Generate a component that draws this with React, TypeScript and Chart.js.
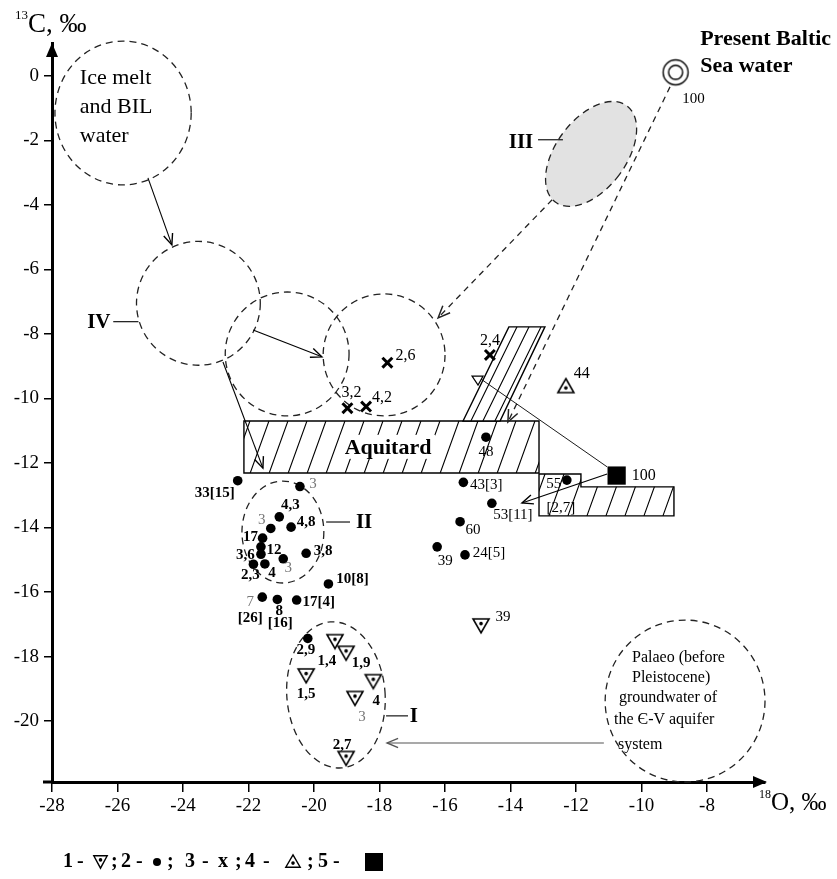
import { useEffect, useRef } from "react";
import { Chart, registerables } from "chart.js";
Chart.register(...registerables);

const FONT = '"Liberation Serif", "Times New Roman", serif';

// ---- axis ticks ----
const xTickValues = [-28, -26, -24, -22, -20, -18, -16, -14, -12, -10, -8];
const yTickValues = [-20, -18, -16, -14, -12, -10, -8, -6, -4, -2, 0];

// ---- series 1: inverted triangles ----
const s1X = [-19.36, -19.02, -20.24, -18.19, -18.75, -19.02, -14.9];
const s1Y = [-17.54, -17.9, -18.6, -18.78, -19.3, -21.16, -17.05];
const s1Labels = ["1,4", "1,9", "1,5", "4", "3", "2,7", "39"];

// ---- series 2: dots ----
const s2X = [-22.33, -20.43, -21.06, -21.32, -20.7, -21.57, -21.62, -21.62, -20.94, -21.5, -21.85, -20.24, -19.56, -20.53, -21.12, -21.58, -20.19, -14.75, -15.44, -14.57, -15.54, -16.24, -15.39, -12.28];
const s2Y = [-12.55, -12.73, -13.67, -14.03, -13.99, -14.33, -14.6, -14.83, -14.97, -15.13, -15.14, -14.8, -15.75, -16.25, -16.23, -16.16, -17.44, -11.2, -12.6, -13.25, -13.82, -14.6, -14.85, -12.53];
const s2Labels = ["33[15]", "3", "4,3", "3", "4,8", "17", "12", "3,6", "3", "4", "2,3", "3,8", "10[8]", "17[4]", "8\n[16]", "7\n[26]", "2,9", "48", "43[3]", "53[11]", "60", "39", "24[5]", "55\n[2,7]"];

// ---- series 3: crosses ----
const s3X = [-17.76, -18.98, -18.41, -14.63];
const s3Y = [-8.89, -10.3, -10.25, -8.65];
const s3Labels = ["2,6", "3,2", "4,2", "2,4"];

// ---- series 4: triangle up ----
const s4X = [-12.31];
const s4Y = [-9.6];
const s4Labels = ["44"];

// ---- series 5: square ----
const s5X = [-10.76];
const s5Y = [-12.39];
const s5Labels = ["100"];

// ---- present Baltic Sea water ----
const balticX = [-8.96];
const balticY = [0.11];
const balticLabels = ["100"];

// ---- label placement (pixel offsets) and styles ----
const s1LabelOffsets = [[[-8, 19]], [[15, 10]], [[0, 18]], [[3, 19]], [[7, 19]], [[-4, -13]], [[22, -9]]];
const s1LabelStyles = ["b", "b", "b", "b", "g", "b", "n"];
const s2LabelOffsets = [[[-23, 12]], [[13, -2]], [[11, -12]], [[-9, -8]], [[15, -5]], [[-12, -1]], [[13, 3]], [[-15.5, 1]], [[5, 9]], [[7, 9]], [[-3, 11]], [[17, -2]], [[24, -5]], [[22, 2]], [[2, 12], [3, 24]], [[-12, 5], [-12, 21]], [[-2, 12]], [[0, 15]], [[23, 3]], [[21, 12]], [[13, 8]], [[8, 14]], [[24, -2]], [[-13, 4], [-6, 28]]];
const s2LabelStyles = ["b", "g", "b", "g", "b", "b", "b", "b", "g", "b", "b", "b", "b", "b", "bb", "gb", "b", "n", "n", "n", "n", "n", "n", "nn"];
const s3LabelOffsets = [[[18, -7]], [[4, -15]], [[16, -9]], [[0, -14]]];
const s3LabelStyles = ["n", "n", "n", "n"];
const s4LabelOffsets = [[[16, -12]]];
const s5LabelOffsets = [[[27, 0]]];
const balticLabelOffsets = [[[18, 27]]];

// ---- diagram zones (data units) ----
const dashedZones = [
  { cx: -25.83, cy: -1.15, rx: 2.08, ry: 2.23, rot: 0 },
  { cx: -23.53, cy: -7.05, rx: 1.89, ry: 1.92, rot: 0 },
  { cx: -20.82, cy: -8.62, rx: 1.89, ry: 1.92, rot: 0 },
  { cx: -17.86, cy: -8.65, rx: 1.86, ry: 1.89, rot: 0 },
  { cx: -20.95, cy: -14.14, rx: 1.25, ry: 1.58, rot: 0 },
  { cx: -19.33, cy: -19.19, rx: 1.5, ry: 2.27, rot: -0.08 },
  { cx: -8.67, cy: -19.38, rx: 2.44, ry: 2.51, rot: 0 },
];
const zoneIII = { cx: -11.54, cy: -2.42, rx: 1.07, ry: 1.86, rot: 0.64 };

const aquitardPoly = [[-22.14, -10.7], [-13.13, -10.7], [-13.13, -12.31], [-22.14, -12.31]];
const bandPoly = [[-15.45, -10.7], [-14.05, -7.78], [-12.95, -7.78], [-14.32, -10.7]];
const stepPoly = [[-13.13, -12.34], [-11.85, -12.34], [-11.85, -12.74], [-9.01, -12.74], [-9.01, -13.64], [-13.13, -13.64]];

const solidArrows = [
  { from: [-25.07, -3.16], to: [-24.34, -5.24], color: "#000" },
  { from: [-21.86, -7.88], to: [-19.76, -8.71], color: "#000" },
  { from: [-22.78, -8.87], to: [-21.56, -12.16], color: "#000" },
  { from: [-11.15, -20.68], to: [-17.77, -20.68], color: "#555" },
  { from: [-11.05, -12.34], to: [-13.65, -13.24], color: "#000" },
];
const dashedArrows = [
  { from: [-12.73, -3.84], to: [-16.21, -7.5] },
  { from: [-9.13, -0.34], to: [-14.08, -10.73] },
];
const squareToTriangle = { from: [-11.05, -12.12], to: [-14.9, -9.4] };
const leaderLines = [
  { from: [-26.13, -7.62], to: [-25.36, -7.62], text: "IV", at: [-26.57, -7.62] },
  { from: [-13.16, -1.98], to: [-12.4, -1.98], text: "III", at: [-13.68, -2.05] },
  { from: [-19.63, -13.83], to: [-18.9, -13.83], text: "II", at: [-18.47, -13.83] },
  { from: [-17.8, -19.84], to: [-17.13, -19.84], text: "I", at: [-16.95, -19.84] },
];
const iceText = ["Ice melt", "and BIL", "water"];
const iceTextPos = [[-27.15, -0.06], [-27.15, -0.96], [-27.15, -1.86]];
const palaeoText = ["Palaeo (before", "Pleistocene)", "groundwater of", "the Є-V aquifer", "system"];
const palaeoTextPos = [[-10.29, -18.05], [-10.29, -18.67], [-10.69, -19.29], [-10.84, -19.97], [-10.72, -20.74]];
const balticText = ["Present Baltic", "Sea water"];
const balticTextPos = [[-8.21, 1.12], [-8.21, 0.31]];
const aquitardLabelPos = [-17.74, -11.5];

// ---- marker images ----
function triMarker(up: boolean, w = 20, h = 18, lw = 1.6) {
  const c = document.createElement("canvas");
  c.width = w; c.height = h;
  const g = c.getContext("2d")!;
  g.strokeStyle = "#000"; g.lineWidth = lw; g.fillStyle = "#fff"; g.lineJoin = "miter";
  const m = lw + 0.4;
  g.beginPath();
  if (up) { g.moveTo(w / 2, m); g.lineTo(w - m, h - m); g.lineTo(m, h - m); }
  else { g.moveTo(m, m); g.lineTo(w - m, m); g.lineTo(w / 2, h - m); }
  g.closePath(); g.fill(); g.stroke();
  g.fillStyle = "#000"; g.beginPath();
  g.arc(w / 2, up ? h * 0.63 : h * 0.37, 1.8, 0, Math.PI * 2); g.fill();
  return c;
}
function balticMarker() {
  const c = document.createElement("canvas");
  c.width = 30; c.height = 30;
  const g = c.getContext("2d")!;
  g.strokeStyle = "#000"; g.lineWidth = 1.4; g.fillStyle = "#fff";
  g.beginPath(); g.arc(15, 15, 12.5, 0, Math.PI * 2); g.fill(); g.stroke();
  g.beginPath(); g.arc(15, 15, 7, 0, Math.PI * 2); g.stroke();
  return c;
}

function pts(xs: number[], ys: number[]) { return xs.map((x, i) => ({ x, y: ys[i] })); }

function arrowHead(ctx: CanvasRenderingContext2D, x1: number, y1: number, x2: number, y2: number, len = 11, ang = 0.42) {
  const a = Math.atan2(y2 - y1, x2 - x1);
  ctx.beginPath();
  ctx.moveTo(x2 - len * Math.cos(a - ang), y2 - len * Math.sin(a - ang));
  ctx.lineTo(x2, y2);
  ctx.lineTo(x2 - len * Math.cos(a + ang), y2 - len * Math.sin(a + ang));
  ctx.stroke();
}

function hatchPoly(ctx: CanvasRenderingContext2D, p: number[][], spacing: number, slope: number) {
  ctx.save();
  ctx.beginPath();
  p.forEach(([x, y], i) => (i ? ctx.lineTo(x, y) : ctx.moveTo(x, y)));
  ctx.closePath();
  ctx.fillStyle = "#fff"; ctx.fill();
  ctx.save();
  ctx.clip();
  const xs = p.map((q) => q[0]), ys = p.map((q) => q[1]);
  const minX = Math.min(...xs), maxX = Math.max(...xs), minY = Math.min(...ys), maxY = Math.max(...ys);
  const h = maxY - minY;
  ctx.beginPath();
  for (let k = minX - slope * h - spacing + 6; k <= maxX + spacing; k += spacing) {
    ctx.moveTo(k, maxY); ctx.lineTo(k + slope * h, minY);
  }
  ctx.lineWidth = 1.1; ctx.strokeStyle = "#000"; ctx.stroke();
  ctx.restore();
  ctx.beginPath();
  p.forEach(([x, y], i) => (i ? ctx.lineTo(x, y) : ctx.moveTo(x, y)));
  ctx.closePath();
  ctx.lineWidth = 1.4; ctx.strokeStyle = "#000"; ctx.stroke();
  ctx.restore();
}

const diagramPlugin = {
  id: "diagram",
  beforeDatasetsDraw(chart: any) {
    const ctx: CanvasRenderingContext2D = chart.ctx;
    const xs = chart.scales.x, ys = chart.scales.y;
    const P = (x: number, y: number) => [xs.getPixelForValue(x), ys.getPixelForValue(y)];
    ctx.save();
    // hatched bodies
    hatchPoly(ctx, aquitardPoly.map(([x, y]) => P(x, y)), 19, 0.36);
    hatchPoly(ctx, bandPoly.map(([x, y]) => P(x, y)), 12, 0.49);
    hatchPoly(ctx, stepPoly.map(([x, y]) => P(x, y)), 19, 0.36);
    // Aquitard label
    const [ax, ay] = P(aquitardLabelPos[0], aquitardLabelPos[1]);
    ctx.font = `bold 22px ${FONT}`;
    ctx.textAlign = "center"; ctx.textBaseline = "middle";
    const tw = ctx.measureText("Aquitard").width;
    ctx.fillStyle = "#fff"; ctx.fillRect(ax - tw / 2 - 4, ay - 12, tw + 8, 24);
    ctx.fillStyle = "#000"; ctx.fillText("Aquitard", ax, ay + 1);

    // zones
    const drawEllipse = (e: any, fill?: string) => {
      const [cx, cy] = P(e.cx, e.cy);
      const rx = Math.abs(xs.getPixelForValue(e.cx + e.rx) - cx);
      const ry = Math.abs(ys.getPixelForValue(e.cy + e.ry) - cy);
      ctx.beginPath(); ctx.ellipse(cx, cy, rx, ry, e.rot, 0, Math.PI * 2);
      if (fill) { ctx.fillStyle = fill; ctx.fill(); }
      ctx.setLineDash([7, 5]); ctx.lineWidth = 1.3; ctx.strokeStyle = "#222"; ctx.stroke(); ctx.setLineDash([]);
    };
    drawEllipse(zoneIII, "#e2e2e2");
    dashedZones.forEach((e) => drawEllipse(e));

    // dashed arrows
    dashedArrows.forEach((a) => {
      const [x1, y1] = P(a.from[0], a.from[1]); const [x2, y2] = P(a.to[0], a.to[1]);
      ctx.strokeStyle = "#222"; ctx.lineWidth = 1.3; ctx.setLineDash([6, 5]);
      ctx.beginPath(); ctx.moveTo(x1, y1); ctx.lineTo(x2, y2); ctx.stroke();
      ctx.setLineDash([]); ctx.lineWidth = 1.5; arrowHead(ctx, x1, y1, x2, y2, 13, 0.4);
    });
    // solid arrows
    solidArrows.forEach((a) => {
      const [x1, y1] = P(a.from[0], a.from[1]); const [x2, y2] = P(a.to[0], a.to[1]);
      ctx.strokeStyle = a.color; ctx.lineWidth = 1.1;
      ctx.beginPath(); ctx.moveTo(x1, y1); ctx.lineTo(x2, y2); ctx.stroke();
      ctx.lineWidth = 1.4; arrowHead(ctx, x1, y1, x2, y2, 12, 0.4);
    });
    // square to open triangle
    {
      const [x1, y1] = P(squareToTriangle.from[0], squareToTriangle.from[1]);
      const [x2, y2] = P(squareToTriangle.to[0], squareToTriangle.to[1]);
      ctx.strokeStyle = "#000"; ctx.lineWidth = 0.9;
      ctx.beginPath(); ctx.moveTo(x1, y1); ctx.lineTo(x2, y2); ctx.stroke();
      ctx.lineWidth = 1.2; ctx.fillStyle = "#fff";
      ctx.beginPath(); ctx.moveTo(x2 - 9, y2 - 3); ctx.lineTo(x2 + 2, y2 - 3); ctx.lineTo(x2 - 3, y2 + 6); ctx.closePath();
      ctx.fill(); ctx.stroke();
    }
    // leader lines with roman labels
    leaderLines.forEach((l) => {
      const [x1, y1] = P(l.from[0], l.from[1]); const [x2, y2] = P(l.to[0], l.to[1]);
      ctx.strokeStyle = "#000"; ctx.lineWidth = 1.1;
      ctx.beginPath(); ctx.moveTo(x1, y1); ctx.lineTo(x2, y2); ctx.stroke();
      const [tx, ty] = P(l.at[0], l.at[1]);
      ctx.font = `bold 21px ${FONT}`; ctx.fillStyle = "#000";
      ctx.textAlign = "center"; ctx.textBaseline = "middle";
      ctx.fillText(l.text, tx, ty + 1);
    });
    // text blocks
    ctx.textAlign = "left"; ctx.textBaseline = "middle"; ctx.fillStyle = "#000";
    ctx.font = `22px ${FONT}`;
    iceText.forEach((t, i) => { const [x, y] = P(iceTextPos[i][0], iceTextPos[i][1]); ctx.fillText(t, x, y); });
    ctx.font = `16px ${FONT}`;
    palaeoText.forEach((t, i) => { const [x, y] = P(palaeoTextPos[i][0], palaeoTextPos[i][1]); ctx.fillText(t, x, y); });
    ctx.font = `bold 22px ${FONT}`;
    balticText.forEach((t, i) => { const [x, y] = P(balticTextPos[i][0], balticTextPos[i][1]); ctx.fillText(t, x, y); });
    ctx.restore();
  },
  afterDatasetsDraw(chart: any) {
    const ctx: CanvasRenderingContext2D = chart.ctx;
    ctx.save();
    ctx.textAlign = "center"; ctx.textBaseline = "middle";
    chart.data.datasets.forEach((ds: any, di: number) => {
      if (!ds.pointLabels) return;
      const meta = chart.getDatasetMeta(di);
      meta.data.forEach((el: any, i: number) => {
        const lines = String(ds.pointLabels[i]).split("\n");
        lines.forEach((ln: string, j: number) => {
          const off = ds.labelOffsets[i][j];
          const st = (ds.labelStyles && ds.labelStyles[i] ? ds.labelStyles[i][j] : "n") || "n";
          ctx.font = `${st === "b" ? "bold " : ""}${ds.labelSize}px ${FONT}`;
          ctx.fillStyle = st === "g" ? "#777" : "#000";
          ctx.fillText(ln, el.x + off[0], el.y + off[1]);
        });
      });
    });
    ctx.restore();
  },
  afterDraw(chart: any) {
    const ctx: CanvasRenderingContext2D = chart.ctx;
    const a = chart.chartArea;
    ctx.save();
    ctx.fillStyle = "#000"; ctx.strokeStyle = "#000";
    // axis extension and arrows
    ctx.lineWidth = 3;
    ctx.beginPath(); ctx.moveTo(a.left - 9, a.bottom); ctx.lineTo(a.left, a.bottom); ctx.stroke();
    ctx.beginPath(); ctx.moveTo(a.left, a.top); ctx.lineTo(a.left - 6, a.top + 14); ctx.lineTo(a.left + 6, a.top + 14); ctx.closePath(); ctx.fill();
    ctx.beginPath(); ctx.moveTo(a.right + 2, a.bottom); ctx.lineTo(a.right - 12, a.bottom - 6); ctx.lineTo(a.right - 12, a.bottom + 6); ctx.closePath(); ctx.fill();
    // axis titles
    ctx.textAlign = "left"; ctx.textBaseline = "alphabetic";
    ctx.font = `13px ${FONT}`; ctx.fillText("13", a.left - 37, 19);
    ctx.font = `27px ${FONT}`; ctx.fillText("C, ‰", a.left - 24, 32);
    ctx.font = `12px ${FONT}`; ctx.fillText("18", a.right - 6, 798);
    ctx.font = `25px ${FONT}`; ctx.fillText("O, ‰", a.right + 6, 810);
    // legend
    const ly = 862;
    ctx.font = `bold 20px ${FONT}`; ctx.textBaseline = "middle";
    const txt: [string, number][] = [["1", 63], ["-", 77], [";", 111], ["2", 121], ["-", 136], [";", 167], ["3", 185], ["-", 202], ["x", 218], [";", 235], ["4", 245], ["-", 263], [";", 307], ["5", 318], ["-", 333]];
    txt.forEach(([t, x]) => ctx.fillText(t, x, ly));
    const tDown = triMarker(false, 17, 16, 1.4); ctx.drawImage(tDown, 92, ly - 8);
    const tUp = triMarker(true, 18, 16, 1.4); ctx.drawImage(tUp, 284, ly - 9);
    ctx.beginPath(); ctx.arc(157, ly, 4, 0, Math.PI * 2); ctx.fill();
    ctx.fillRect(365, ly - 9, 18, 18);
    ctx.restore();
  },
};

export default function App() {
  const ref = useRef<HTMLCanvasElement>(null);
  useEffect(() => {
    if (!ref.current) return;
    const tri1 = triMarker(false);
    const tri4 = triMarker(true);
    const balt = balticMarker();
    const chart = new Chart(ref.current, {
      type: "scatter",
      data: {
        datasets: [
          { label: "1", data: pts(s1X, s1Y), pointStyle: tri1, pointRadius: 9, pointLabels: s1Labels, labelOffsets: s1LabelOffsets, labelStyles: s1LabelStyles, labelSize: 15 } as any,
          { label: "2", data: pts(s2X, s2Y), pointStyle: "circle", pointRadius: 4.8, backgroundColor: "#000", borderColor: "#000", borderWidth: 0, pointLabels: s2Labels, labelOffsets: s2LabelOffsets, labelStyles: s2LabelStyles, labelSize: 15 } as any,
          { label: "3", data: pts(s3X, s3Y), pointStyle: "crossRot", pointRadius: 7, borderColor: "#000", borderWidth: 3, pointLabels: s3Labels, labelOffsets: s3LabelOffsets, labelStyles: s3LabelStyles, labelSize: 16 } as any,
          { label: "4", data: pts(s4X, s4Y), pointStyle: tri4, pointRadius: 9, pointLabels: s4Labels, labelOffsets: s4LabelOffsets, labelSize: 16 } as any,
          { label: "5", data: pts(s5X, s5Y), pointStyle: "rect", pointRadius: 12.9, backgroundColor: "#000", borderColor: "#000", borderWidth: 0, pointLabels: s5Labels, labelOffsets: s5LabelOffsets, labelSize: 16 } as any,
          { label: "Baltic", data: pts(balticX, balticY), pointStyle: balt, pointRadius: 13, pointLabels: balticLabels, labelOffsets: balticLabelOffsets, labelSize: 15 } as any,
        ],
      },
      options: {
        responsive: false,
        animation: false,
        events: [],
        layout: { padding: { top: 43, right: 72, left: 0, bottom: 0 } },
        plugins: { legend: { display: false }, tooltip: { enabled: false }, title: { display: false } },
        elements: { point: { hoverRadius: 0 } },
        datasets: { scatter: { clip: false } as any },
        scales: {
          x: {
            type: "linear", min: -28, max: -6.23,
            afterFit: (s: any) => { s.height = 97; },
            afterBuildTicks: (s: any) => { s.ticks = xTickValues.map((v) => ({ value: v })); },
            grid: { display: true, drawOnChartArea: false, drawTicks: true, tickLength: 10, color: "#000", lineWidth: 1.5 },
            border: { display: true, color: "#000", width: 3 },
            ticks: { color: "#000", font: { family: FONT, size: 19 }, padding: 3, autoSkip: false, maxRotation: 0, callback: (v: any) => String(v) },
          },
          y: {
            type: "linear", min: -21.89, max: 1.02,
            afterFit: (s: any) => { s.width = 52; },
            afterBuildTicks: (s: any) => { s.ticks = yTickValues.map((v) => ({ value: v })); },
            grid: { display: true, drawOnChartArea: false, drawTicks: true, tickLength: 8, color: "#000", lineWidth: 1.5 },
            border: { display: true, color: "#000", width: 3 },
            ticks: { color: "#000", font: { family: FONT, size: 19 }, padding: 5, autoSkip: false, callback: (v: any) => String(v) },
          },
        },
      },
      plugins: [diagramPlugin],
    });
    return () => chart.destroy();
  }, []);
  return (
    <div style={{ position: "absolute", left: 0, top: 0, width: 837, height: 879, background: "#fff" }}>
      <canvas ref={ref} width={837} height={879} style={{ display: "block" }} />
    </div>
  );
}
